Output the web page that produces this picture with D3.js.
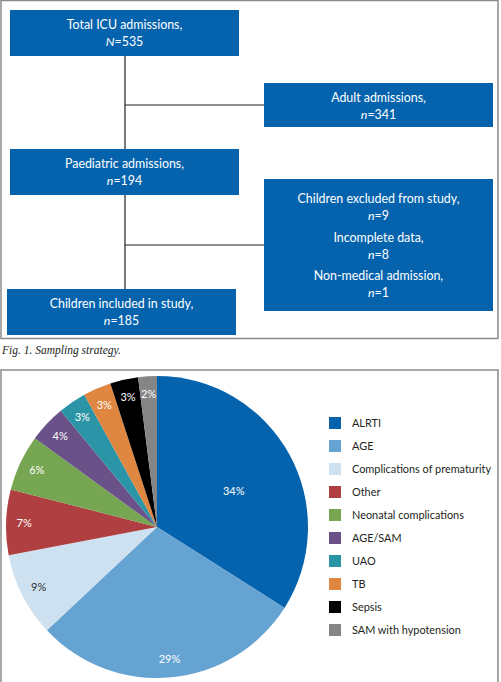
<!DOCTYPE html>
<html>
<head>
<meta charset="utf-8">
<script src="https://cdn.jsdelivr.net/npm/d3@7"></script>
<style>
  body { margin: 0; background: #fff; }
  svg { display: block; font-family: Lato, "Open Sans", sans-serif; }
</style>
</head>
<body>
<div id="chart"></div>
<script>
// flowchart box labels: [first line, italic symbol, count]
const boxTitles = ["Total ICU admissions,", "Adult admissions,", "Paediatric admissions,", "Children included in study,"];
const boxSymbols = ["N", "n", "n", "n"];
const boxCounts = [535, 341, 194, 185];
const excludedTitles = ["Children excluded from study,", "Incomplete data,", "Non-medical admission,"];
const excludedCounts = [9, 8, 1];

// pie data
const categories = ["ALRTI", "AGE", "Complications of prematurity", "Other", "Neonatal complications",
  "AGE/SAM", "UAO", "TB", "Sepsis", "SAM with hypotension"];
const percents = [34, 29, 9, 7, 6, 4, 3, 3, 3, 2];
const colors = ["#0563ae", "#65a3d3", "#cde1f1", "#b03f42", "#76a652", "#6a5288", "#2b94a6", "#df8641", "#000000", "#858585"];

const width = 501, height = 682;
const boxBlue = "#0563ae";
const flowFont = 12.4;

const svg = d3.select("#chart").append("svg")
  .attr("width", width)
  .attr("height", height);

// ---- Flowchart ----
const flow = svg.append("g");
flow.append("rect")
  .attr("x", 1).attr("y", 0.5).attr("width", 497).attr("height", 338)
  .attr("fill", "none").attr("stroke", "#8a8a8a").attr("stroke-width", 1.5);

// connector lines
const lines = [
  [125, 56, 125, 149], [125, 195, 125, 289],
  [125, 105, 264, 105], [125, 245, 264, 245]
];
flow.selectAll("line.conn").data(lines).join("line")
  .attr("class", "conn")
  .attr("x1", d => d[0]).attr("y1", d => d[1])
  .attr("x2", d => d[2]).attr("y2", d => d[3])
  .attr("stroke", "#222").attr("stroke-width", 1.2);

const boxes = [
  { x: 10, y: 10, w: 229, h: 46 },
  { x: 264, y: 83, w: 229, h: 44 },
  { x: 10, y: 149, w: 229, h: 46 },
  { x: 7, y: 289, w: 229, h: 46 }
];
boxes.forEach((b, i) => {
  const g = flow.append("g");
  g.append("rect").attr("x", b.x).attr("y", b.y).attr("width", b.w).attr("height", b.h).attr("fill", boxBlue);
  const cx = b.x + b.w / 2;
  g.append("text").attr("x", cx).attr("y", b.y + 19).attr("text-anchor", "middle")
    .attr("fill", "#fff").attr("font-size", flowFont).text(boxTitles[i]);
  const t = g.append("text").attr("x", cx).attr("y", b.y + 36).attr("text-anchor", "middle")
    .attr("fill", "#fff").attr("font-size", flowFont);
  t.append("tspan").attr("font-style", "italic").text(boxSymbols[i]);
  t.append("tspan").text("=" + boxCounts[i]);
});

// excluded box
const ex = { x: 264, y: 179, w: 229, h: 132 };
flow.append("rect").attr("x", ex.x).attr("y", ex.y).attr("width", ex.w).attr("height", ex.h).attr("fill", boxBlue);
excludedTitles.forEach((s, i) => {
  const cx = ex.x + ex.w / 2;
  const y0 = ex.y + 24 + i * 38.5;
  flow.append("text").attr("x", cx).attr("y", y0).attr("text-anchor", "middle")
    .attr("fill", "#fff").attr("font-size", flowFont).text(s);
  const t = flow.append("text").attr("x", cx).attr("y", y0 + 17).attr("text-anchor", "middle")
    .attr("fill", "#fff").attr("font-size", flowFont);
  t.append("tspan").attr("font-style", "italic").text("n");
  t.append("tspan").text("=" + excludedCounts[i]);
});

// caption
svg.append("text").attr("x", 2).attr("y", 354)
  .style("font-family", "'Liberation Serif', 'DejaVu Serif', serif").style("font-style", "italic")
  .attr("font-size", 11.5).attr("fill", "#222")
  .text("Fig. 1. Sampling strategy.");

// ---- Pie chart ----
svg.append("rect")
  .attr("x", 1).attr("y", 370).attr("width", 497).attr("height", 330)
  .attr("fill", "none").attr("stroke", "#8a8a8a").attr("stroke-width", 1.5);

const cx = 157, cy = 527, radius = 151;
const pie = d3.pie().sort(null).value(d => d)(percents);
const arc = d3.arc().innerRadius(0).outerRadius(radius);
const pg = svg.append("g").attr("transform", `translate(${cx},${cy})`);

pg.selectAll("path").data(pie).join("path")
  .attr("d", arc)
  .attr("fill", (d, i) => colors[i]);

pg.selectAll("text.lbl").data(pie).join("text")
  .attr("class", "lbl")
  .attr("transform", (d, i) => {
    const r = i === 0 ? radius * 0.56 : radius * 0.88;
    const a = i === 0 ? (d.startAngle + d.endAngle) / 2 + 0.07 : (d.startAngle + d.endAngle) / 2;
    return `translate(${Math.sin(a) * r},${-Math.cos(a) * r})`;
  })
  .attr("text-anchor", "middle")
  .attr("dy", "0.35em")
  .attr("font-size", 11)
  .attr("fill", (d, i) => i === 2 ? "#333" : "#fff")
  .text(d => d.data + "%");

// legend
const legend = svg.append("g").attr("transform", "translate(329,423)");
const rowY = d3.scalePoint().domain(categories).range([0, 23 * 9]);
const rows = legend.selectAll("g").data(categories).join("g")
  .attr("transform", d => `translate(0,${rowY(d)})`);
rows.append("rect").attr("x", 0).attr("y", -6).attr("width", 12).attr("height", 12)
  .attr("fill", (d, i) => colors[i]);
rows.append("text").attr("x", 23).attr("y", 0).attr("dy", "0.35em")
  .attr("font-size", 10.9).attr("fill", "#231f20").text(d => d);
</script>
</body>
</html>
